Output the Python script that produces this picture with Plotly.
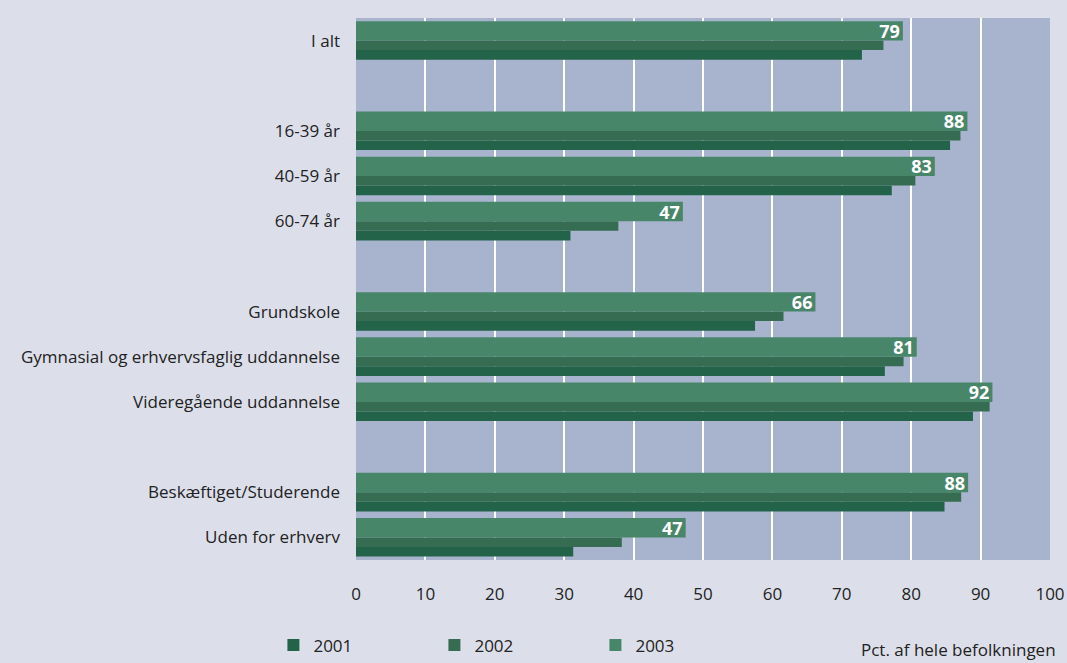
import plotly.graph_objects as go

# ---- data ----
groups = [
    ["I alt"],
    ["16-39 år", "40-59 år", "60-74 år"],
    ["Grundskole", "Gymnasial og erhvervsfaglig uddannelse", "Videregående uddannelse"],
    ["Beskæftiget/Studerende", "Uden for erhverv"],
]
categories = [c for g in groups for c in g]
v2001 = [72.9, 85.6, 77.2, 30.9, 57.5, 76.2, 88.9, 84.8, 31.3]
v2002 = [76.0, 87.1, 80.6, 37.8, 61.6, 78.9, 91.3, 87.2, 38.3]
v2003 = [78.8, 88.1, 83.4, 47.1, 66.2, 80.8, 91.7, 88.2, 47.5]
labels2003 = ["79", "88", "83", "47", "66", "81", "92", "88", "47"]
years = ["2001", "2002", "2003"]
x_ticks = [0, 10, 20, 30, 40, 50, 60, 70, 80, 90, 100]

# build category order with blank spacer rows between groups
order = []
for gi, g in enumerate(groups):
    if gi > 0:
        order.append(" " * gi)
    order.extend(g)

FONT = "Open Sans, sans-serif"
colors = {"2001": "#23634a", "2002": "#366c51", "2003": "#48866a"}
# (offset, width) in category units; reversed axis -> 2003 on top
geom = {"2001": (0.21, 0.215), "2002": (0.0, 0.21), "2003": (-0.43, 0.43)}
vals = {"2001": v2001, "2002": v2002, "2003": v2003}

fig = go.Figure()
for yr in years:
    off, w = geom[yr]
    kw = {}
    if yr == "2003":
        kw = dict(text=labels2003, textposition="inside", insidetextanchor="end",
                  constraintext="none", textangle=0,
                  textfont=dict(family=FONT, size=18, color="white", weight="bold"))
    fig.add_trace(go.Bar(
        name=yr, y=categories, x=vals[yr], orientation="h",
        offset=off, width=w,
        marker=dict(color=colors[yr], line=dict(width=0)),
        hoverinfo="x+name", **kw))

fig.update_layout(
    width=1067, height=663,
    paper_bgcolor="#dcdfea", plot_bgcolor="#a8b3ce",
    margin=dict(l=356, r=17, t=18, b=103, autoexpand=False),
    font=dict(family=FONT, size=17, color="#222222"),
    barmode="overlay",
    showlegend=True,
    legend=dict(orientation="h", x=-0.119, y=-0.1245, xanchor="left", yanchor="top",
                entrywidth=116, font=dict(size=17, family=FONT),
                bgcolor="rgba(0,0,0,0)", traceorder="normal"),
    annotations=[dict(text="Pct. af hele befolkningen", xref="paper", yref="paper",
                      x=1.012, y=-0.166, xanchor="right", yanchor="middle",
                      showarrow=False, font=dict(size=17, family=FONT, color="#222222"))],
)
fig.update_xaxes(range=[0, 100], tickvals=x_ticks, showgrid=True, gridcolor="white",
                 gridwidth=2, zeroline=False, showline=False, ticks="",
                 ticklabelstandoff=22, tickfont=dict(size=17), automargin=False)
fig.update_yaxes(categoryorder="array", categoryarray=order, range=[len(order) - 0.5, -0.5],
                 showgrid=False, zeroline=False, showline=False, ticks="",
                 ticklabelstandoff=15, tickfont=dict(size=17), automargin=False)

fig.write_html("out.html", config={"displayModeBar": False},
               post_script="document.body.style.margin='0';document.body.style.overflow='hidden';")
